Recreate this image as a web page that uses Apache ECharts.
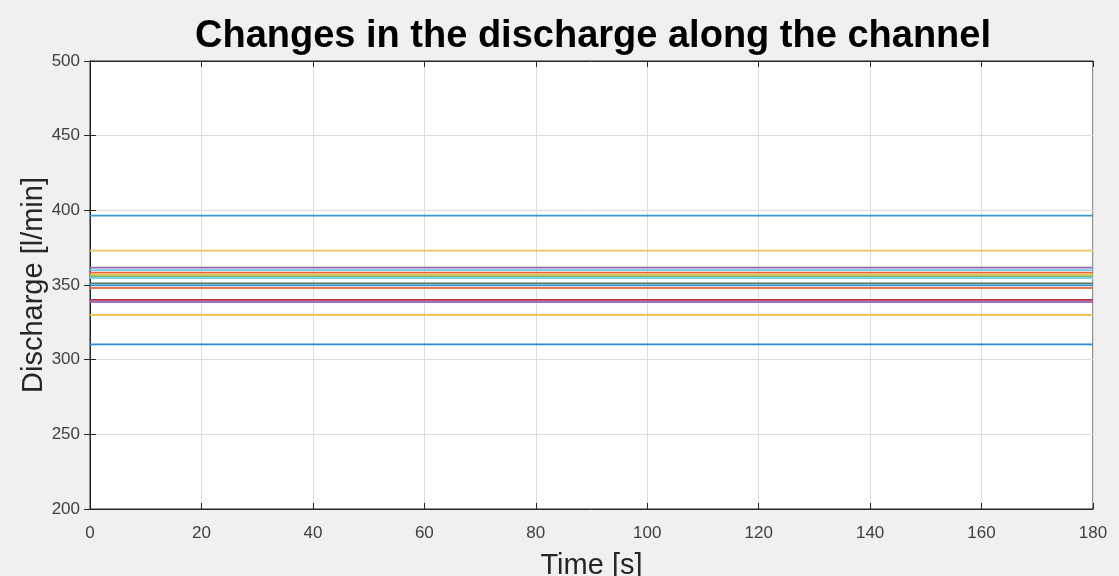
<!DOCTYPE html>
<html>
<head>
<meta charset="utf-8">
<script src="https://cdn.jsdelivr.net/npm/echarts@6/dist/echarts.min.js"></script>
<style>
html,body{margin:0;padding:0;background:#f0f0f0;}
#c{width:1119px;height:576px;}
</style>
</head>
<body>
<div id="c"></div>
<script>
var timeRange = [0, 180];
var xTicks = [0, 20, 40, 60, 80, 100, 120, 140, 160, 180];
var yTicks = [200, 250, 300, 350, 400, 450, 500];
var dischargeValues = [396.5, 373, 361.6, 359.9, 358.3, 356.9, 356, 354.7, 351.1, 349.8, 348, 340, 338.6, 330, 310.2];
var lineColors = ['#3a95d6', '#f0c560', '#9a62a8', '#6cc6ee', '#e06a34', '#f0c050', '#8cbc5a', '#7fd0f0', '#4f7f72', '#3a8fd0', '#e8764a', '#b02a48', '#a070b8', '#f2b83a', '#2a8ad6'];

var chart = echarts.init(document.getElementById('c'));
var series = dischargeValues.map(function(v, i){
  return {
    type: 'line',
    name: 'Q' + (i+1),
    data: [[timeRange[0], v], [timeRange[1], v]],
    symbol: 'none',
    silent: true,
    lineStyle: {color: lineColors[i], width: 1.8},
    z: 3
  };
});
var FONT = 'Liberation Sans, Arial, sans-serif';
var axisText = {color:'#404040', fontFamily:FONT, fontSize:17};
chart.setOption({
  backgroundColor:'#f0f0f0',
  animation:false,
  title:{
    text:'Changes in the discharge along the channel',
    left: 588, top: 13, textAlign:'center',
    textStyle:{fontFamily:FONT, fontWeight:'bold', fontSize:38, color:'#000'}
  },
  grid:{left:90, right:26, top:61, bottom:67, containLabel:false, outerBoundsMode:'none', show:true, backgroundColor:'#ffffff', borderColor:'#262626', borderWidth:1},
  xAxis:[{
    type:'value', min:0, max:180, interval:20,
    name:'Time [s]', nameLocation:'middle', nameGap:42, nameMoveOverlap:false,
    nameTextStyle:{fontFamily:FONT, fontSize:29, color:'#262626'},
    axisLine:{show:true, lineStyle:{color:'#262626'}},
    axisTick:{show:true, inside:true, length:6, lineStyle:{color:'#262626'}},
    axisLabel:Object.assign({margin:16}, axisText),
    splitLine:{show:true, lineStyle:{color:'#dcdcdc', width:1}}
  },{
    type:'value', min:0, max:180, interval:20, position:'top',
    axisLine:{show:true, lineStyle:{color:'#262626'}},
    axisTick:{show:true, inside:true, length:6, lineStyle:{color:'#262626'}},
    axisLabel:{show:false}, splitLine:{show:false}
  }],
  yAxis:[{
    type:'value', min:200, max:500, interval:50,
    name:'Discharge [l/min]', nameLocation:'middle', nameGap:42, nameMoveOverlap:false,
    nameTextStyle:{fontFamily:FONT, fontSize:29, color:'#262626'},
    axisLine:{show:true, onZero:false, lineStyle:{color:'#262626'}},
    axisTick:{show:false},
    axisLabel:Object.assign({margin:10}, axisText),
    splitLine:{show:true, lineStyle:{color:'#dcdcdc', width:1}}
  },{
    type:'value', min:200, max:500, interval:50, position:'right',
    axisLine:{show:true, lineStyle:{color:'#262626'}},
    axisTick:{show:true, inside:true, length:6, lineStyle:{color:'#262626'}},
    axisLabel:{show:false}, splitLine:{show:false}
  },{
    type:'value', min:200, max:500, interval:50, position:'left',
    axisLine:{show:true, onZero:false, lineStyle:{color:'#262626'}},
    axisTick:{show:true, inside:true, length:6, lineStyle:{color:'#262626'}},
    axisLabel:{show:false}, splitLine:{show:false}
  }],
  series: series
});
</script>
</body>
</html>
